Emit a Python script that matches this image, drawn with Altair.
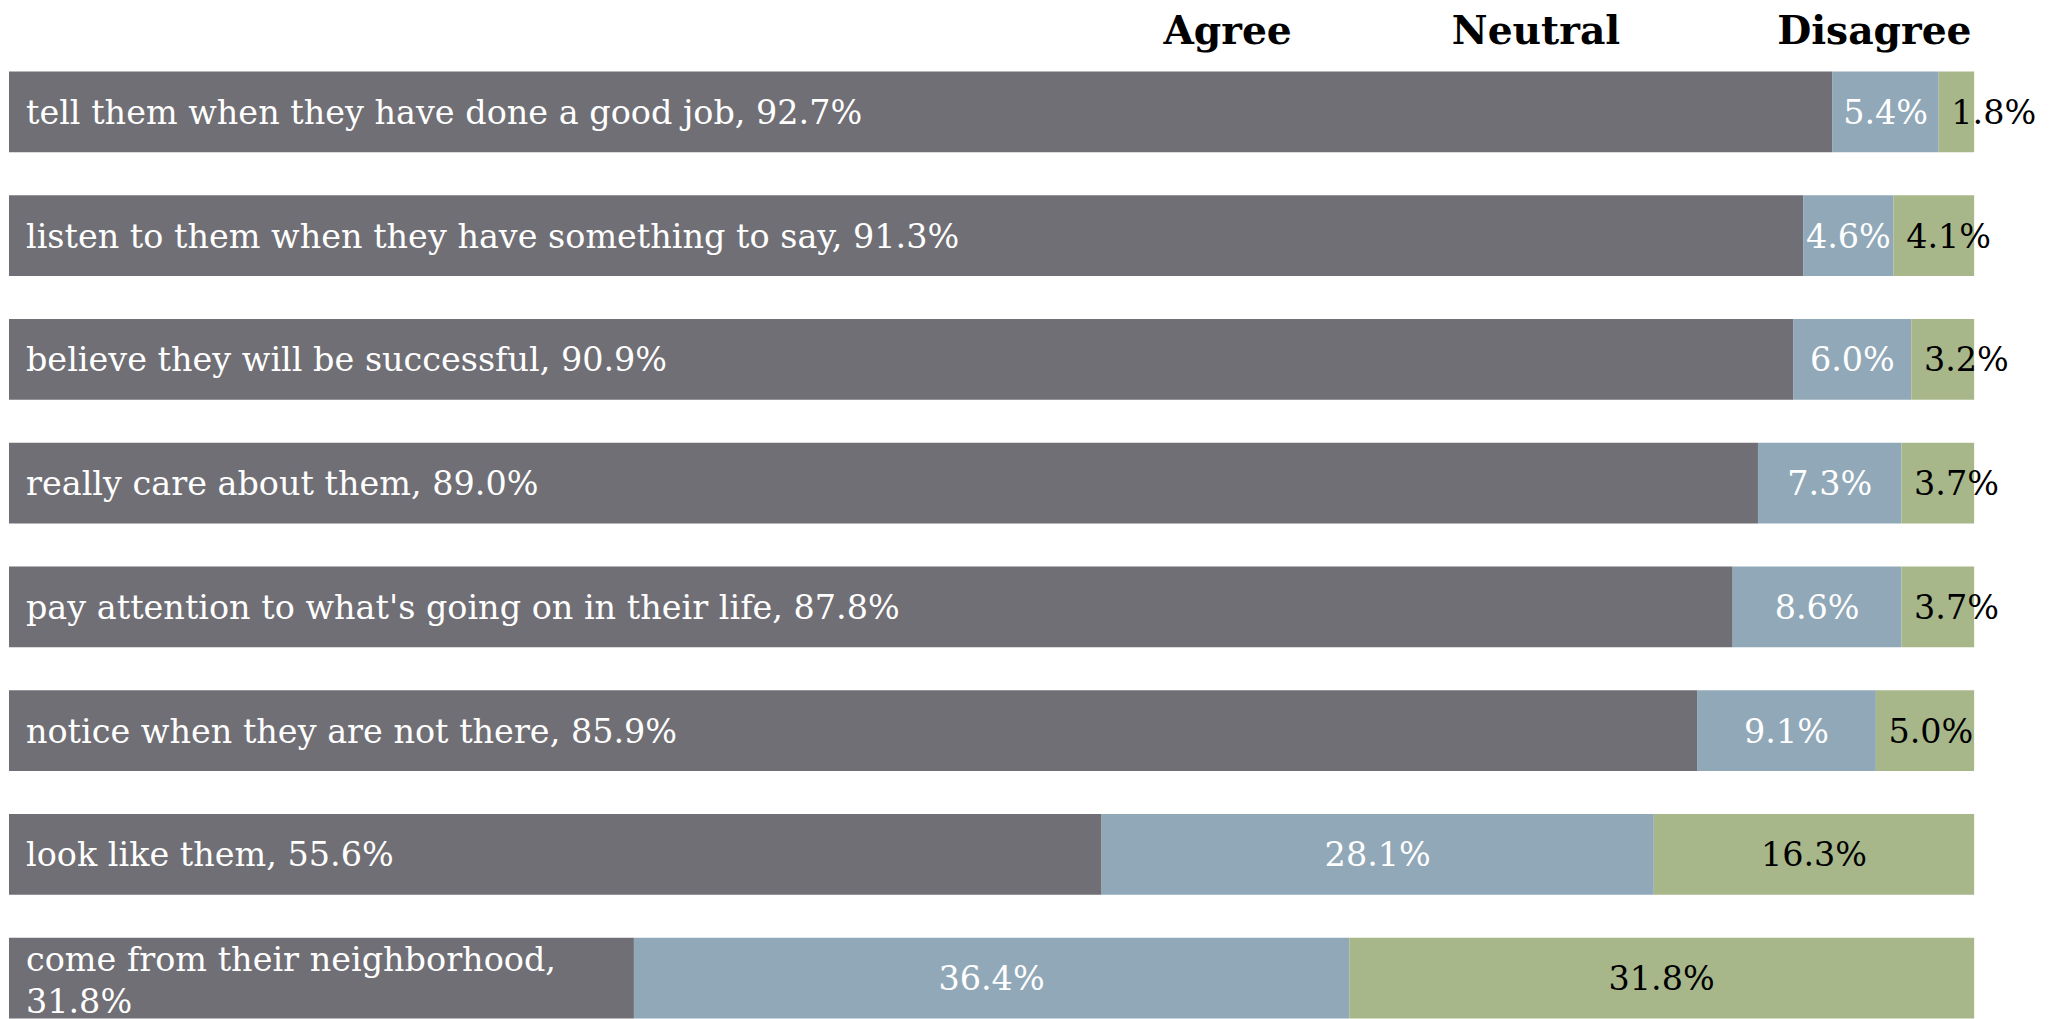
import altair as alt
import pandas as pd

items = [
    "tell them when they have done a good job",
    "listen to them when they have something to say",
    "believe they will be successful",
    "really care about them",
    "pay attention to what's going on in their life",
    "notice when they are not there",
    "look like them",
    "come from their neighborhood",
]
agree = [92.7, 91.3, 90.9, 89.0, 87.8, 85.9, 55.6, 31.8]
neutral = [5.4, 4.6, 6.0, 7.3, 8.6, 9.1, 28.1, 36.4]
disagree = [1.8, 4.1, 3.2, 3.7, 3.7, 5.0, 16.3, 31.8]
categories = ["Agree", "Neutral", "Disagree"]
colors = ["#706f75", "#91a8b8", "#a8b78a"]

FONT = "DejaVu Serif"

rows = []
seg_rows = []
for it, a, n, d in zip(items, agree, neutral, disagree):
    tot = a + n + d
    a_end = a / tot * 100
    n_end = (a + n) / tot * 100
    wrapped = a < 40
    sep = "\n" if wrapped else " "
    rows.append({
        "item": it,
        "alabel": f"{it},{sep}{a:.1f}%",
        "wrapped": wrapped,
        "nlabel": f"{n:.1f}%",
        "dlabel": f"{d:.1f}%",
        "npos": (a_end + n_end) / 2,
        "dpos": n_end + max((100 - n_end) / 2, 2.8),
    })
    for cat, s, e in zip(categories, [0, a_end, n_end], [a_end, n_end, 100]):
        seg_rows.append({"item": it, "cat": cat, "start": s, "end": e})

df = pd.DataFrame(rows)
segs = pd.DataFrame(seg_rows)

yenc = alt.Y("item:N", sort=items, axis=None,
             scale=alt.Scale(paddingInner=0.347, paddingOuter=0.505))
xscale = alt.Scale(domain=[0, 100], nice=False)

bars = alt.Chart(segs).mark_bar().encode(
    x=alt.X("start:Q", scale=xscale, axis=None),
    x2="end:Q",
    y=yenc,
    color=alt.Color("cat:N", scale=alt.Scale(domain=categories, range=colors), legend=None),
)

base = alt.Chart(df)
label_style = dict(align="left", baseline="middle", dx=17, font=FONT, fontSize=33.5,
                   color="white", lineBreak="\n", lineHeight=42)
alab = base.transform_filter("!datum.wrapped").mark_text(dy=2, **label_style).encode(
    x=alt.value(0), y=yenc, text="alabel:N")
alab_w = base.transform_filter("datum.wrapped").mark_text(dy=-17, **label_style).encode(
    x=alt.value(0), y=yenc, text="alabel:N")
nlab = base.mark_text(align="center", baseline="middle", dy=2, font=FONT, fontSize=33.5,
                      color="white").encode(
    x=alt.X("npos:Q", scale=xscale), y=yenc, text="nlabel:N")
dlab = base.mark_text(align="center", baseline="middle", dy=2, font=FONT, fontSize=33.5,
                      color="black").encode(
    x=alt.X("dpos:Q", scale=xscale), y=yenc, text="dlabel:N")

header_px = [1221, 1530, 1869]
headers = []
for h, px in zip(categories, header_px):
    headers.append(
        alt.Chart(pd.DataFrame({"h": [h]})).mark_text(
            align="center", baseline="middle", font=FONT, fontSize=39.3,
            fontWeight="bold", color="black").encode(
            x=alt.value(px), y=alt.value(23), text="h:N")
    )

chart = alt.layer(bars, alab, alab_w, nlab, dlab, *headers).properties(
    width=1969, height=1074,
    autosize=alt.AutoSizeParams(type="none"),
    padding={"left": 1, "top": 0, "right": 68, "bottom": 0},
).configure_view(stroke=None)

chart.save("out.html", embed_options={"renderer": "svg", "actions": False})
